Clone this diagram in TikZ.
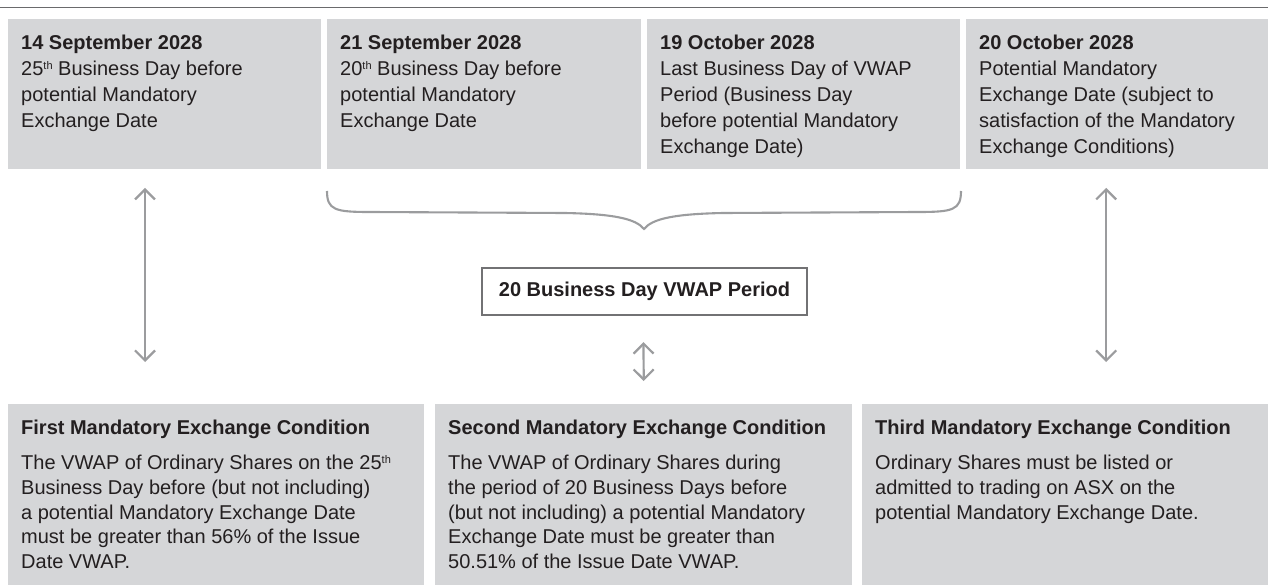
\documentclass[tikz,border=0pt]{standalone}
\usepackage{fontspec}
\usepackage{xcolor}
\setmainfont{Liberation Sans}
\usetikzlibrary{arrows.meta}

\definecolor{boxgray}{HTML}{D5D6D8}
\definecolor{inkgray}{HTML}{231F20}
\definecolor{linkgray}{HTML}{9B9C9E}
\definecolor{rulegray}{HTML}{6A6A6C}
\definecolor{framegray}{HTML}{727274}

\newcommand{\ordth}{\raisebox{6.5pt}{\fontsize{11}{11}\selectfont th}}

\tikzset{
  datebox/.style={fill=boxgray, anchor=north west, inner sep=0pt, minimum width=313.5pt, minimum height=150pt},
  condbox/.style={fill=boxgray, anchor=north west, inner sep=0pt, minimum height=181pt},
  datetext/.style={anchor=north west, inner sep=0pt, align=left, text=inkgray, font=\fontsize{20}{26}\selectfont},
  condtext/.style={anchor=north west, inner sep=0pt, align=left, text=inkgray, font=\fontsize{20}{24.7}\selectfont},
  periodbox/.style={draw=framegray, line width=2.2pt, fill=white, minimum width=325pt, minimum height=47pt, inner sep=0pt, text=inkgray, font=\fontsize{20}{24}\selectfont\bfseries},
  link/.style={draw=linkgray, line width=2.2pt, {Straight Barb[length=10pt,width=20pt]}-{Straight Barb[length=10pt,width=20pt]}},
}

\begin{document}
\begin{tikzpicture}[x=1pt,y=-1pt]
      \useasboundingbox (0,0) rectangle (1268,585);
      \draw [rulegray, line width=1.6pt] (0,7.5) -- (1268,7.5);

      % dates
      \node [datebox] (d1) at (7.5,19) {};
      \node [datebox] (d2) at (327,19) {};
      \node [datebox, minimum width=313pt] (d3) at (647,19) {};
      \node [datebox, minimum width=302pt] (d4) at (966,19) {};
      \node [datetext] (t1) at ([xshift=13.5pt,yshift=-16pt]d1.north west) {\textbf{14 September 2028}\\25\ordth{} Business Day before\\potential Mandatory\\Exchange Date};
      \node [datetext] (t2) at ([xshift=13pt,yshift=-16pt]d2.north west) {\textbf{21 September 2028}\\20\ordth{} Business Day before\\potential Mandatory\\Exchange Date};
      \node [datetext] (t3) at ([xshift=13pt,yshift=-16pt]d3.north west) {\textbf{19 October 2028}\\Last Business Day of VWAP\\Period (Business Day\\before potential Mandatory\\Exchange Date)};
      \node [datetext] (t4) at ([xshift=13pt,yshift=-16pt]d4.north west) {\textbf{20 October 2028}\\Potential Mandatory\\Exchange Date (subject to\\satisfaction of the Mandatory\\Exchange Conditions)};

      % brace over the VWAP period
      \draw [linkgray, line width=2.1pt] (327,191) .. controls (327,210) and (335,212) .. (370,212) -- (565,213) .. controls (615,214) and (636,219) .. (644,229) .. controls (652,219) and (673,214) .. (723,213) -- (918,212) .. controls (953,212) and (961,210) .. (961,191);
      \node [periodbox] (period) at (644.5,291.5) {20 Business Day VWAP Period};

      % conditions
      \node [condbox, minimum width=416pt] (c1) at (8,404) {};
      \node [condbox, minimum width=417pt] (c2) at (435,404) {};
      \node [condbox, minimum width=406pt] (c3) at (862,404) {};
      \node [condtext] (u1) at ([xshift=13pt,yshift=-16pt]c1.north west) {\textbf{First Mandatory Exchange Condition}\\[10.3pt]The VWAP of Ordinary Shares on the 25\ordth\\Business Day before (but not including)\\a potential Mandatory Exchange Date\\must be greater than 56\% of the Issue\\Date VWAP.};
      \node [condtext] (u2) at ([xshift=13pt,yshift=-16pt]c2.north west) {\textbf{Second Mandatory Exchange Condition}\\[10.3pt]The VWAP of Ordinary Shares during\\the period of 20 Business Days before\\(but not including) a potential Mandatory\\Exchange Date must be greater than\\50.51\% of the Issue Date VWAP.};
      \node [condtext] (u3) at ([xshift=13pt,yshift=-16pt]c3.north west) {\textbf{Third Mandatory Exchange Condition}\\[10.3pt]Ordinary Shares must be listed or\\admitted to trading on ASX on the\\potential Mandatory Exchange Date.};

      % links
      \draw [link] ([xshift=137.5pt,yshift=-18.5pt]d1.south west) -- ([xshift=137pt,yshift=42pt]c1.north west);
      \draw [link] ([xshift=-1pt,yshift=-26pt]period.south) -- ([yshift=23pt]c2.north);
      \draw [link] ([xshift=-11pt,yshift=-18.5pt]d4.south) -- ([xshift=41pt,yshift=42pt]c3.north);
\end{tikzpicture}
\end{document}
